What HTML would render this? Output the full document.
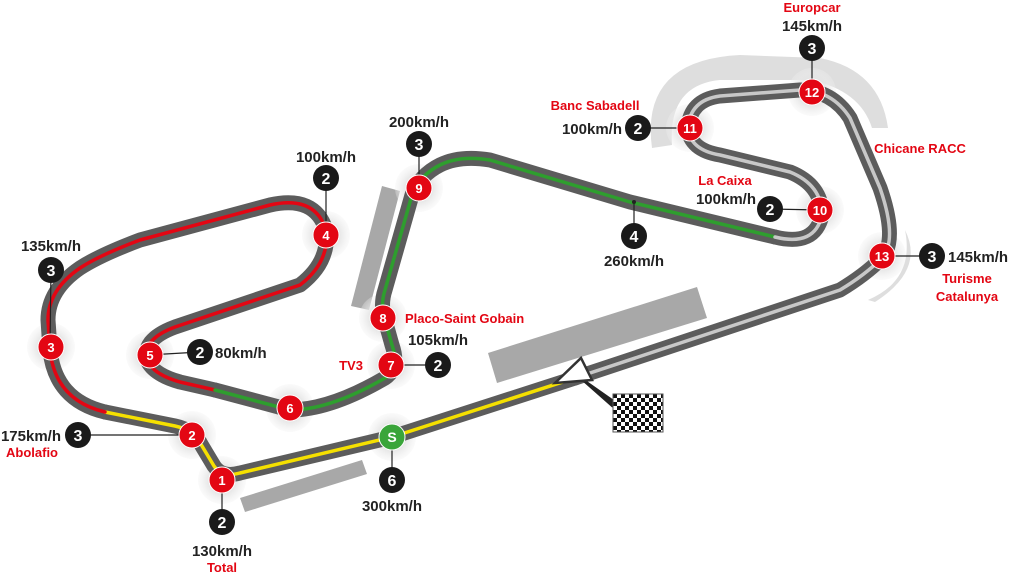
<!DOCTYPE html>
<html><head><meta charset="utf-8"><style>
html,body{margin:0;padding:0;background:#fff;}
svg{display:block;}
text{font-family:"Liberation Sans Narrow","Liberation Sans",sans-serif;font-weight:bold;}
.r{fill:#e30613;font-size:13px;}
.k{fill:#222;font-size:15px;}
.n{fill:#fff;font-size:13px;text-anchor:middle;}
.b{fill:#fff;font-size:16px;text-anchor:middle;}
</style></head><body>
<svg width="1024" height="580" viewBox="0 0 1024 580" xmlns="http://www.w3.org/2000/svg">
<defs>
<pattern id="chk" width="8" height="8" patternUnits="userSpaceOnUse" x="613" y="394">
<rect width="8" height="8" fill="#fff"/><rect width="4" height="4" fill="#111"/><rect x="4" y="4" width="4" height="4" fill="#111"/>
</pattern>
<radialGradient id="halo"><stop offset="0.5" stop-color="#e3e3e3"/><stop offset="1" stop-color="#f0f0f0" stop-opacity="0.3"/></radialGradient>
</defs>
<polygon points="488,353 697,287 707,318 497,383" fill="#a8a8a8"/>
<polygon points="240,498 362,460 367,474 245,512" fill="#a8a8a8"/>
<polygon points="351,306 382,186 400,191 369,310" fill="#a8a8a8"/>
<path d="M652,148 Q640,60 740,55 L820,58 Q880,70 888,128 L872,128 Q860,90 810,80 L720,80 Q668,85 672,145 Z" fill="#dedede"/>
<path d="M868,300 Q915,280 905,230 Q925,270 875,302 Z" fill="#dedede"/>
<g fill="url(#halo)">
<circle cx="222" cy="480" r="24"/><circle cx="192" cy="435" r="24"/><circle cx="51" cy="347" r="24"/><circle cx="326" cy="235" r="24"/><circle cx="150" cy="355" r="24"/><circle cx="290" cy="408" r="24"/><circle cx="391" cy="365" r="24"/><circle cx="383" cy="318" r="24"/><circle cx="419" cy="188" r="24"/><circle cx="820" cy="210" r="24"/><circle cx="690" cy="128" r="24"/><circle cx="812" cy="92" r="24"/><circle cx="882" cy="256" r="24"/><circle cx="392" cy="437" r="24"/>
</g>
<g fill="none" stroke-linecap="round" stroke-linejoin="round">
<path d="M575 378 L392 437 L240 473 Q222 478 214 466 L202 446 Q194 430 175 426 L105 412" stroke="#5c5c5c" stroke-width="15"/>
<path d="M105 412 Q55 400 50 350 L48 320 Q48 290 80 268 Q100 255 140 240 L270 205 Q315 195 326 230 Q330 262 300 285 L175 327 Q140 340 148 362 Q155 375 180 382 L215 390" stroke="#5c5c5c" stroke-width="15"/>
<path d="M215 390 L290 410 Q330 410 385 378 Q400 368 392 345 L385 320 Q380 305 385 290 L412 195 Q420 175 440 165 Q460 155 490 160 L630 202 L775 237" stroke="#5c5c5c" stroke-width="15"/>
<path d="M775 237 Q815 247 822 215 Q822 185 790 172 L720 155 Q690 150 688 128 Q690 100 720 96 L800 90 Q832 90 850 118 L880 188 Q898 240 882 258 Q865 275 840 290 L575 378" stroke="#5c5c5c" stroke-width="15"/>
<path d="M575 378 L392 437 L240 473 Q222 478 214 466 L202 446 Q194 430 175 426 L105 412" stroke="#f5e000" stroke-width="3.5"/>
<path d="M105 412 Q55 400 50 350 L48 320 Q48 290 80 268 Q100 255 140 240 L270 205 Q315 195 326 230 Q330 262 300 285 L175 327 Q140 340 148 362 Q155 375 180 382 L215 390" stroke="#e30613" stroke-width="3.5"/>
<path d="M215 390 L290 410 Q330 410 385 378 Q400 368 392 345 L385 320 Q380 305 385 290 L412 195 Q420 175 440 165 Q460 155 490 160 L630 202 L775 237" stroke="#2e9e2e" stroke-width="3.5"/>
<path d="M775 237 Q815 247 822 215 Q822 185 790 172 L720 155 Q690 150 688 128 Q690 100 720 96 L800 90 Q832 90 850 118 L880 188 Q898 240 882 258 Q865 275 840 290 L575 378" stroke="#c8c8c8" stroke-width="3.5"/>
</g>
<path d="M578 376 L615 402 L612 406 Z" fill="#222" stroke="#222" stroke-width="2"/>
<polygon points="555,383 581,358 592,380" fill="#fff" stroke="#333" stroke-width="2.5"/>
<rect x="613" y="394" width="50" height="38" fill="url(#chk)" stroke="#555" stroke-width="1"/>
<g stroke="#222" stroke-width="1.2">
<line x1="222" y1="480" x2="222" y2="522"/><line x1="392" y1="437" x2="392" y2="480"/><line x1="192" y1="435" x2="78" y2="435"/><line x1="50" y1="347" x2="51" y2="270"/><line x1="326" y1="235" x2="326" y2="178"/><line x1="148" y1="355" x2="200" y2="352"/><line x1="391" y1="365" x2="438" y2="365"/><line x1="419" y1="188" x2="419" y2="144"/><line x1="634" y1="202" x2="634" y2="236"/><line x1="820" y1="210" x2="770" y2="209"/><line x1="690" y1="128" x2="638" y2="128"/><line x1="812" y1="92" x2="812" y2="48"/><line x1="882" y1="256" x2="932" y2="256"/>
</g>
<circle cx="634" cy="202" r="2" fill="#222"/>
<g fill="#e30613" stroke="#fff" stroke-width="1">
<circle cx="222" cy="480" r="13"/><circle cx="192" cy="435" r="13"/><circle cx="51" cy="347" r="13"/><circle cx="326" cy="235" r="13"/><circle cx="150" cy="355" r="13"/><circle cx="290" cy="408" r="13"/><circle cx="391" cy="365" r="13"/><circle cx="383" cy="318" r="13"/><circle cx="419" cy="188" r="13"/><circle cx="820" cy="210" r="13"/><circle cx="690" cy="128" r="13"/><circle cx="812" cy="92" r="13"/><circle cx="882" cy="256" r="13"/>
</g>
<circle cx="392" cy="437" r="13" fill="#3aa53a" stroke="#fff" stroke-width="1"/>
<g class="n">
<text x="222" y="485">1</text><text x="192" y="440">2</text><text x="51" y="352">3</text><text x="326" y="240">4</text><text x="150" y="360">5</text><text x="290" y="413">6</text><text x="391" y="370">7</text><text x="383" y="323">8</text><text x="419" y="193">9</text><text x="820" y="215">10</text><text x="690" y="133">11</text><text x="812" y="97">12</text><text x="882" y="261">13</text><text x="392" y="442" style="font-size:14px">S</text>
</g>
<g fill="#1a1a1a">
<circle cx="222" cy="522" r="13"/><circle cx="392" cy="480" r="13"/><circle cx="78" cy="435" r="13"/><circle cx="51" cy="270" r="13"/><circle cx="326" cy="178" r="13"/><circle cx="200" cy="352" r="13"/><circle cx="438" cy="365" r="13"/><circle cx="419" cy="144" r="13"/><circle cx="634" cy="236" r="13"/><circle cx="770" cy="209" r="13"/><circle cx="638" cy="128" r="13"/><circle cx="812" cy="48" r="13"/><circle cx="932" cy="256" r="13"/>
</g>
<g class="b">
<text x="222" y="528">2</text><text x="392" y="486">6</text><text x="78" y="441">3</text><text x="51" y="276">3</text><text x="326" y="184">2</text><text x="200" y="358">2</text><text x="438" y="371">2</text><text x="419" y="150">3</text><text x="634" y="242">4</text><text x="770" y="215">2</text><text x="638" y="134">2</text><text x="812" y="54">3</text><text x="932" y="262">3</text>
</g>
<g class="k">
<text x="222" y="556" text-anchor="middle">130km/h</text>
<text x="392" y="511" text-anchor="middle">300km/h</text>
<text x="61" y="441" text-anchor="end">175km/h</text>
<text x="51" y="251" text-anchor="middle">135km/h</text>
<text x="326" y="162" text-anchor="middle">100km/h</text>
<text x="215" y="358">80km/h</text>
<text x="438" y="345" text-anchor="middle">105km/h</text>
<text x="419" y="127" text-anchor="middle">200km/h</text>
<text x="634" y="266" text-anchor="middle">260km/h</text>
<text x="756" y="204" text-anchor="end">100km/h</text>
<text x="622" y="134" text-anchor="end">100km/h</text>
<text x="812" y="31" text-anchor="middle">145km/h</text>
<text x="948" y="262">145km/h</text>
</g>
<g class="r">
<text x="222" y="572" text-anchor="middle">Total</text>
<text x="32" y="457" text-anchor="middle">Abolafio</text>
<text x="405" y="323">Placo-Saint Gobain</text>
<text x="351" y="370" text-anchor="middle">TV3</text>
<text x="725" y="185" text-anchor="middle">La Caixa</text>
<text x="595" y="110" text-anchor="middle">Banc Sabadell</text>
<text x="812" y="12" text-anchor="middle">Europcar</text>
<text x="920" y="153" text-anchor="middle">Chicane RACC</text>
<text x="967" y="283" text-anchor="middle">Turisme</text>
<text x="967" y="301" text-anchor="middle">Catalunya</text>
</g>
</svg>
</body></html>
